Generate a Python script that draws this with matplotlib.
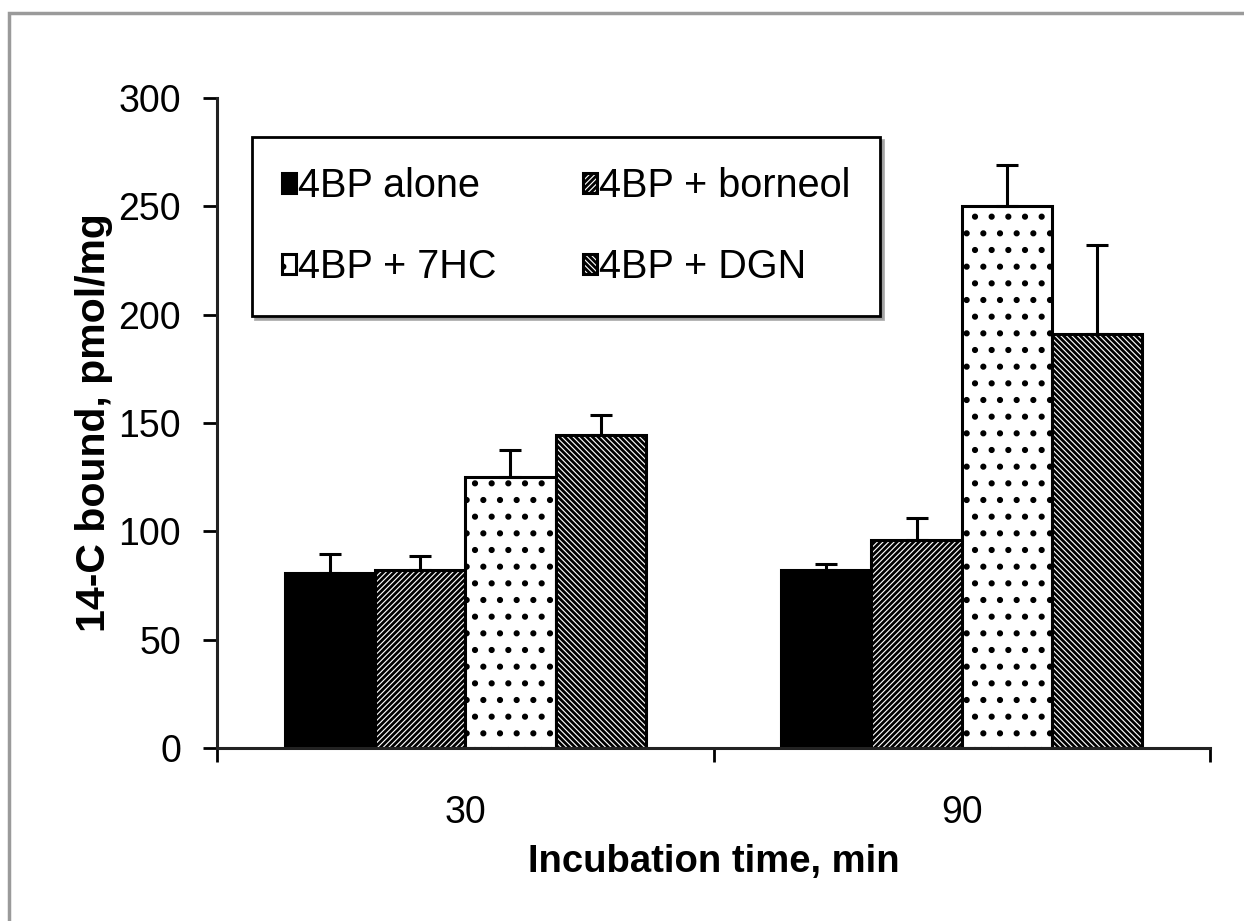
import matplotlib
matplotlib.use("Agg")
import matplotlib.pyplot as plt
from matplotlib.patches import Rectangle
import numpy as np

categories = ["30", "90"]
series = ["4BP alone", "4BP + borneol", "4BP + 7HC", "4BP + DGN"]
alone = [81, 82]
borneol = [82, 96]
hc7 = [125, 250]
dgn = [144.5, 191]
alone_err = [8.5, 3]
borneol_err = [6.5, 10]
hc7_err = [12.5, 19]
dgn_err = [9, 41]
yticks = [0, 50, 100, 150, 200, 250, 300]

plt.rcParams['font.family'] = ['Liberation Sans', 'DejaVu Sans']
plt.rcParams['hatch.linewidth'] = 2.0

fig = plt.figure(figsize=(12.44, 9.21), dpi=100)
fig.patches.append(Rectangle((9/1244, -0.05), 1.2, 1 - 13/921 + 0.05, transform=fig.transFigure,
                             fill=False, edgecolor='#9a9a9a', linewidth=2.5, zorder=0))
ax = fig.add_axes([217/1244, 1 - 748/921, (1210 - 217)/1244, (748 - 98)/921])

x = np.arange(len(categories))
w = 0.182
vals = [alone, borneol, hc7, dgn]
errs = [alone_err, borneol_err, hc7_err, dgn_err]
styles = [dict(color='black', hatch=None),
          dict(color='white', hatch='//////'),
          dict(color='white', hatch='.'),
          dict(color='white', hatch='\\\\\\\\\\\\')]
handles = []
for i, (v, e, s, lab) in enumerate(zip(vals, errs, styles, series)):
    pos = x + (i - 1.5) * w
    b = ax.bar(pos, v, width=w, color=s['color'], edgecolor='black', linewidth=2.2,
               hatch=s['hatch'], label=lab, zorder=2)
    handles.append(b)
    ax.errorbar(pos, v, yerr=[np.zeros(len(e)), e], fmt='none', ecolor='black',
                elinewidth=2.2, capsize=8, capthick=2.2, zorder=3)

ax.set_xlim(-0.5, 1.5)
ax.set_ylim(0, 300)
ax.set_yticks(yticks)
ax.set_xticks(x)
ax.set_xticklabels(categories)
ax.set_xticks([-0.5, 0.5, 1.5], minor=True)
ax.tick_params(axis='x', which='major', length=0, pad=34, labelsize=27)
ax.tick_params(axis='x', which='minor', length=10, width=2, direction='out')
ax.tick_params(axis='y', length=10, width=2, direction='out', pad=16, labelsize=27)
for side in ['top', 'right']:
    ax.spines[side].set_visible(False)
for side in ['left', 'bottom']:
    ax.spines[side].set_linewidth(2.2)
    ax.spines[side].set_color('#222222')

ax.set_ylabel("14-C bound, pmol/mg", fontsize=29.5, fontweight='bold', labelpad=4)
ax.set_xlabel("Incubation time, min", fontsize=27.5, fontweight='bold', labelpad=9)

order = [0, 2, 1, 3]
leg = ax.legend([handles[i] for i in order], [series[i] for i in order],
                ncol=2, loc='upper left', bbox_to_anchor=(252/1244, 1 - 137/921),
                bbox_transform=fig.transFigure, fontsize=28.5, frameon=True, fancybox=False,
                handlelength=0.35, handleheight=0.4, handletextpad=0.05,
                columnspacing=2.2, labelspacing=1.1, borderpad=0.75,
                shadow={'color': '#999999', 'alpha': 0.8},
                edgecolor='black', borderaxespad=0)
leg.get_frame().set_linewidth(2)

fig.savefig("out.png", dpi=100)
